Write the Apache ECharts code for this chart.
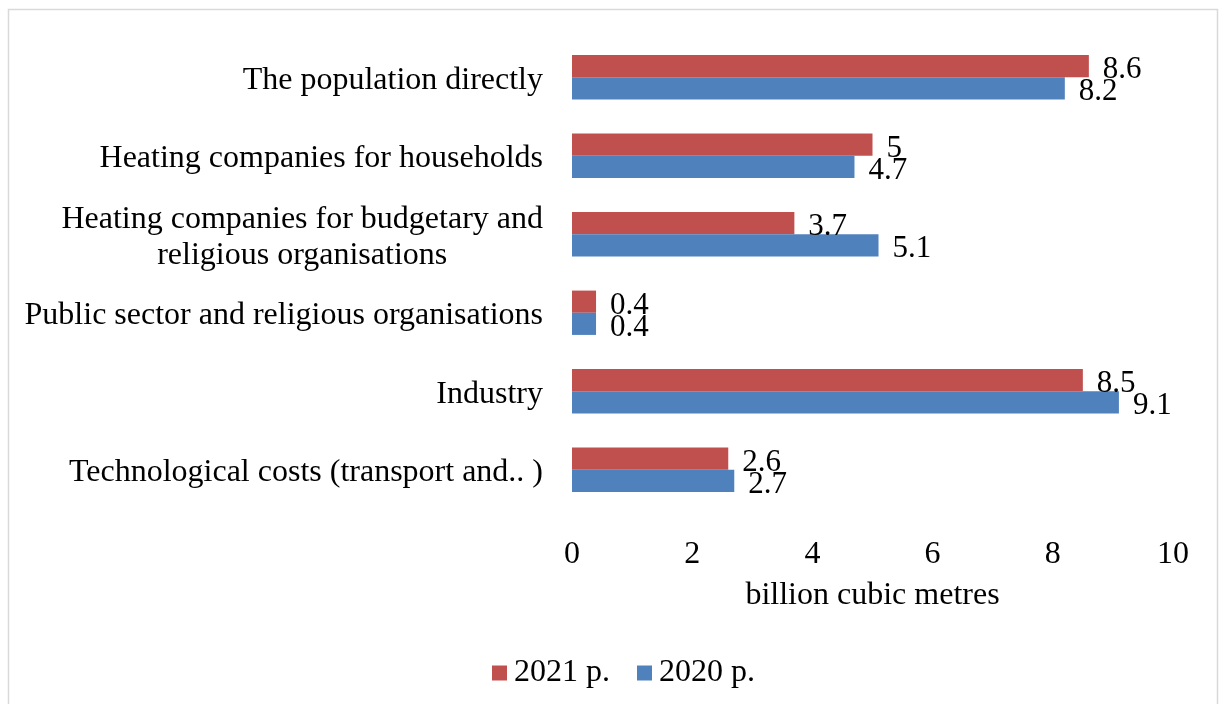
<!DOCTYPE html>
<html>
<head>
<meta charset="utf-8">
<title>Natural gas consumption by consumer group</title>
<script src="https://cdn.jsdelivr.net/npm/echarts@6/dist/echarts.min.js"></script>
<style>
  html, body { margin: 0; padding: 0; background: #fff; }
  #chart { width: 1219px; height: 704px; }
</style>
</head>
<body>
<div id="chart"></div>
<script>
// Consumer groups, listed top to bottom
const categories = [
  'The population directly',
  'Heating companies for households',
  'Heating companies for budgetary and\nreligious organisations',
  'Public sector and religious organisations',
  'Industry',
  'Technological costs (transport and.. )'
];
const seriesNames = ['2021 р.', '2020 р.'];
const values2021 = [8.6, 5, 3.7, 0.4, 8.5, 2.6];
const values2020 = [8.2, 4.7, 5.1, 0.4, 9.1, 2.7];
const xTicks = { min: 0, max: 10, interval: 2 };
const axisTitle = 'billion cubic metres';

const FONT = "'Liberation Serif', 'Times New Roman', serif";
const chart = echarts.init(document.getElementById('chart'), null, { renderer: 'canvas' });

function barSeries(name, data, color) {
  return {
    name: name,
    type: 'bar',
    data: data,
    barGap: '0%',
    barCategoryGap: '43.5%',
    itemStyle: { color: color },
    label: {
      show: true,
      position: 'right',
      distance: 14,
      offset: [0, 4],
      color: '#000',
      fontFamily: FONT,
      fontSize: 31
    }
  };
}

chart.setOption({
  backgroundColor: '#fff',
  animation: false,
  textStyle: { fontFamily: FONT, color: '#000' },
  graphic: [{
    type: 'rect',
    shape: { x: 8.5, y: 9.5, width: 1209, height: 720 },
    style: { fill: 'none', stroke: '#d9d9d9', lineWidth: 1.5 },
    silent: true
  }],
  grid: { left: 572, right: 46, top: 38, bottom: 195, containLabel: false },
  legend: {
    data: seriesNames,
    top: 652,
    left: 487,
    icon: 'rect',
    itemWidth: 15,
    itemHeight: 15,
    itemGap: 27,
    textStyle: { fontFamily: FONT, fontSize: 32, color: '#000', padding: [0, 0, 0, 2] }
  },
  xAxis: {
    type: 'value',
    min: xTicks.min,
    max: xTicks.max,
    interval: xTicks.interval,
    name: axisTitle,
    nameLocation: 'middle',
    nameGap: 71,
    nameTextStyle: { fontFamily: FONT, fontSize: 32, color: '#000' },
    axisLine: { show: false },
    axisTick: { show: false },
    splitLine: { show: false },
    axisLabel: { fontFamily: FONT, fontSize: 32, color: '#000', margin: 30 }
  },
  yAxis: {
    type: 'category',
    data: categories,
    inverse: true,
    axisLine: { show: false },
    axisTick: { show: false },
    splitLine: { show: false },
    axisLabel: {
      margin: 29,
      fontFamily: FONT,
      fontSize: 32,
      color: '#000',
      padding: [6, 0, 0, 0],
      formatter: function (v) {
        return v.split('\n').map(function (s) { return '{c|' + s + '}'; }).join('\n');
      },
      rich: {
        c: { fontFamily: FONT, fontSize: 32, color: '#000', align: 'center', lineHeight: 36 }
      }
    }
  },
  series: [
    barSeries(seriesNames[0], values2021, '#C0504D'),
    barSeries(seriesNames[1], values2020, '#4F81BD')
  ]
});
</script>
</body>
</html>
